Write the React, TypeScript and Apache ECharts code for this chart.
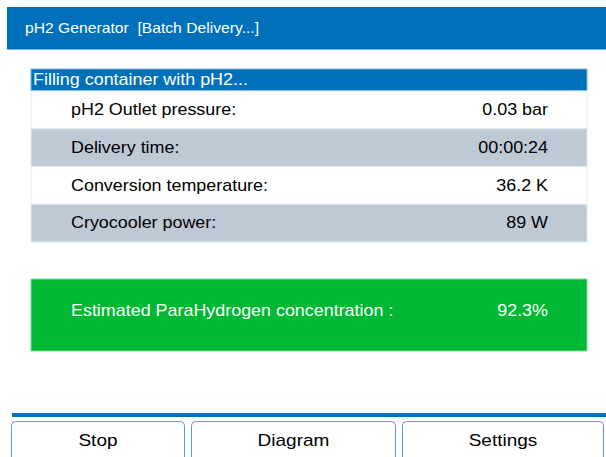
import React, { useEffect, useRef } from "react";
import * as echarts from "echarts";

const titleText = "pH2 Generator  [Batch Delivery...]";
const headerText = "Filling container with pH2...";
const rowLabels = ["pH2 Outlet pressure:", "Delivery time:", "Conversion temperature:", "Cryocooler power:"];
const rowValues = ["0.03 bar", "00:00:24", "36.2 K", "89 W"];
const concLabel = "Estimated ParaHydrogen concentration :";
const concValue = "92.3%";
const buttonLabels = ["Stop", "Diagram", "Settings"];

const FONT = "'Liberation Sans', Arial, sans-serif";
const BLUE = "#0070BB";
const GRAY = "#BDCAD6";
const GREEN = "#00B833";
const SX = 1.12;

export default function App() {
  const ref = useRef<HTMLDivElement>(null);
  useEffect(() => {
    if (!ref.current) return;
    const chart = echarts.init(ref.current, undefined, { renderer: "svg" });
    const elements: any[] = [];
    const txt = (x: number, y: number, text: string, size: number, fill: string, align = "left") => ({
      type: "text",
      x,
      y,
      scaleX: SX,
      style: { text, fill, font: `${size}px ${FONT}`, verticalAlign: "middle", align },
    });
    // title bar
    elements.push({ type: "rect", shape: { x: 7, y: 7, width: 599, height: 42 }, style: { fill: BLUE } });
    elements.push({ type: "line", shape: { x1: 7, y1: 49.5, x2: 606, y2: 49.5 }, style: { stroke: "#7FB2DC", lineWidth: 1 } });
    elements.push(txt(25, 28, titleText, 14, "#fff"));
    // header
    elements.push({ type: "rect", shape: { x: 31, y: 69, width: 556, height: 22 }, style: { fill: BLUE, stroke: "#7FB2DC", lineWidth: 1 } });
    elements.push(txt(33, 80, headerText, 16, "#fff"));
    // rows
    const rowTop = 91;
    const rowH = 37.75;
    rowLabels.forEach((lab, i) => {
      const y = rowTop + i * rowH;
      elements.push({
        type: "rect",
        shape: { x: 31, y, width: 556, height: rowH },
        style: { fill: i % 2 === 1 ? GRAY : "#fff", stroke: "#E4EAF0", lineWidth: 1 },
      });
      elements.push(txt(71, y + rowH / 2, lab, 16, "#000"));
      elements.push(txt(548, y + rowH / 2, rowValues[i], 16, "#000", "right"));
    });
    // green box
    elements.push({ type: "rect", shape: { x: 31, y: 279, width: 556, height: 72 }, style: { fill: GREEN, stroke: "#7FDC9A", lineWidth: 1 } });
    elements.push(txt(71, 311, concLabel, 16, "#fff"));
    elements.push(txt(548, 311, concValue, 16, "#fff", "right"));
    // bottom line
    elements.push({ type: "rect", shape: { x: 12, y: 413, width: 594, height: 4 }, style: { fill: BLUE } });
    // buttons
    const btns = [
      [11, 185],
      [191, 396],
      [402, 604],
    ];
    buttonLabels.forEach((lab, i) => {
      const [x0, x1] = btns[i];
      elements.push({
        type: "rect",
        shape: { x: x0 + 0.5, y: 421.5, width: x1 - x0 - 1, height: 50, r: 4 },
        style: { fill: "#fff", stroke: "#5B9BD5", lineWidth: 1 },
      });
      elements.push(txt((x0 + x1) / 2, 440, lab, 17, "#000", "center"));
    });
    chart.setOption({ animation: false, backgroundColor: "#fff", graphic: { elements } });
    return () => chart.dispose();
  }, []);
  return <div ref={ref} style={{ position: "fixed", left: 0, top: 0, width: 606, height: 457 }} />;
}
